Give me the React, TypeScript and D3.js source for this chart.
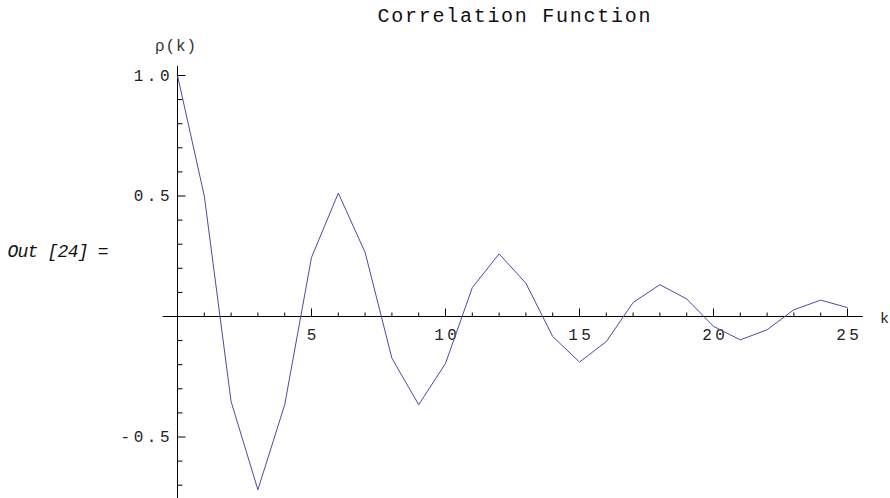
import { useEffect, useRef } from 'react';
import * as d3 from 'd3';

// lag k and the sample autocorrelation rho(k)
const lags = [0, 1, 2, 3, 4, 5, 6, 7, 8, 9, 10, 11, 12, 13, 14, 15, 16, 17, 18, 19, 20, 21, 22, 23, 24, 25];
const rho = [
  1.0, 0.5, -0.353, -0.719, -0.366, 0.245, 0.512, 0.266, -0.173, -0.366,
  -0.195, 0.12, 0.26, 0.138, -0.083, -0.189, -0.104, 0.058, 0.132, 0.073,
  -0.041, -0.097, -0.055, 0.028, 0.068, 0.037,
];

const xMajorTicks = [5, 10, 15, 20, 25];
const yMajorTicks = [-0.5, 0.5, 1.0];
const yTickLabels = ['-0.5', '0.5', '1.0'];

const title = 'Correlation Function';
const yLabel = 'ρ(k)';
const xLabel = 'k';
const cellLabel = 'Out [24] =';

const MONO = "'Liberation Mono', 'Courier New', monospace";

export default function App() {
  const svgRef = useRef<SVGSVGElement>(null);

  useEffect(() => {
    const svg = d3.select(svgRef.current);
    svg.selectAll('*').remove();

    const x = d3.scaleLinear().domain([0, 25]).range([177.5, 847.5]);
    const y = d3.scaleLinear().domain([0, 1]).range([316.5, 75.5]);

    const xMinor = d3.range(1, 26).filter(k => k % 5 !== 0);
    const yMinor = d3.range(-7, 11)
      .map(i => i / 10)
      .filter(v => v !== 0 && Math.abs(v) !== 0.5 && v !== 1);

    // axis lines
    svg.append('line')
      .attr('x1', x(-0.55)).attr('x2', x(25.57))
      .attr('y1', y(0)).attr('y2', y(0))
      .attr('stroke', '#000').attr('stroke-width', 1);
    svg.append('line')
      .attr('x1', x(0)).attr('x2', x(0))
      .attr('y1', y(1.04)).attr('y2', y(-0.76))
      .attr('stroke', '#000').attr('stroke-width', 1);

    // x ticks (pointing up)
    const gxMinor = svg.append('g')
      .attr('transform', `translate(0,${y(0)})`)
      .call(d3.axisBottom(x).tickValues(xMinor).tickSize(-4).tickFormat(() => '').offset(0));
    gxMinor.select('.domain').remove();

    const gx = svg.append('g')
      .attr('transform', `translate(0,${y(0)})`)
      .call(d3.axisBottom(x).tickValues(xMajorTicks).tickSize(-8).tickPadding(12).offset(0));
    gx.select('.domain').remove();
    gx.selectAll('text')
      .attr('font-family', MONO)
      .attr('font-size', 16)
      .attr('letter-spacing', 3.5)
      .attr('dx', 1.75)
      .attr('fill', '#222');

    // y ticks (pointing right)
    const gyMinor = svg.append('g')
      .attr('transform', `translate(${x(0)},0)`)
      .call(d3.axisLeft(y).tickValues(yMinor).tickSize(-5).tickFormat(() => '').offset(0));
    gyMinor.select('.domain').remove();

    const gy = svg.append('g')
      .attr('transform', `translate(${x(0)},0)`)
      .call(d3.axisLeft(y).tickValues(yMajorTicks).tickSize(-8).tickPadding(8).offset(0)
        .tickFormat((d, i) => yTickLabels[i]));
    gy.select('.domain').remove();
    gy.selectAll('text')
      .attr('font-family', MONO)
      .attr('font-size', 16)
      .attr('letter-spacing', 3.5)
      .attr('dx', 3.5)
      .attr('fill', '#222');

    svg.selectAll('.tick line').attr('stroke', '#000');

    // the correlation curve
    const line = d3.line<number>()
      .x((d, i) => x(lags[i]))
      .y(d => y(d));

    svg.append('path')
      .datum(rho)
      .attr('fill', 'none')
      .attr('stroke', '#4b4ba0')
      .attr('stroke-width', 1)
      .attr('d', line);

    // labels
    svg.append('text')
      .attr('x', 377.5).attr('y', 22)
      .attr('font-family', MONO).attr('font-size', 20)
      .attr('textLength', 273).attr('lengthAdjust', 'spacing')
      .attr('fill', '#111')
      .text(title);

    svg.append('text')
      .attr('x', 155).attr('y', 50.5)
      .attr('font-family', MONO).attr('font-size', 16)
      .attr('textLength', 41).attr('lengthAdjust', 'spacing')
      .attr('fill', '#333')
      .text(yLabel);

    svg.append('text')
      .attr('x', 880).attr('y', 322.5)
      .attr('font-family', MONO).attr('font-size', 15)
      .attr('fill', '#222')
      .text(xLabel);

    svg.append('text')
      .attr('x', 7.5).attr('y', 256.5)
      .attr('font-family', MONO).attr('font-size', 18)
      .attr('font-style', 'italic')
      .attr('textLength', 101).attr('lengthAdjust', 'spacing')
      .attr('fill', '#111')
      .text(cellLabel);
  }, []);

  return (
    <svg
      ref={svgRef}
      width={890}
      height={498}
      style={{ position: 'absolute', left: 0, top: 0, background: '#fff' }}
    />
  );
}
